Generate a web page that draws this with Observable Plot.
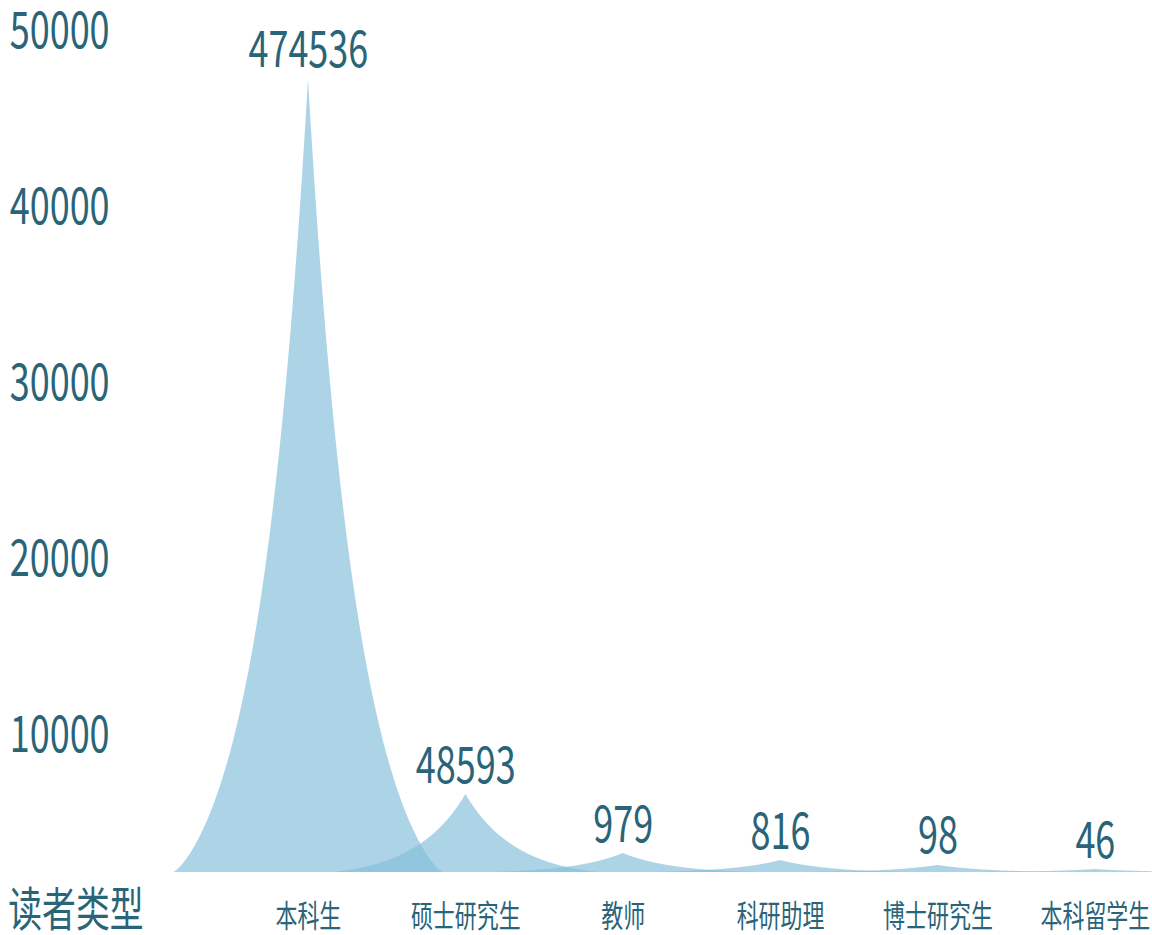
<!DOCTYPE html>
<html><head><meta charset="utf-8">
<script src="https://cdn.jsdelivr.net/npm/d3@7"></script>
<script src="https://cdn.jsdelivr.net/npm/@observablehq/plot@0.6"></script>
<style>
html,body{margin:0;padding:0;background:#fff;overflow:hidden;}
#chart svg{display:block;}
</style></head><body><div id="chart"></div>
<script>
// ---- data ----
const categories = ["本科生", "硕士研究生", "教师", "科研助理", "博士研究生", "本科留学生"];
const valueLabels = ["474536", "48593", "979", "816", "98", "46"];
const heights = [45060, 4430, 1080, 680, 400, 170];   // drawn spike heights
const yTicks = [10000, 20000, 30000, 40000, 50000];
const axisTitle = "读者类型";

// ---- layout ----
const SQUEEZE = 0.72;              // horizontal compression of the whole drawing
const W = 1152, H = 935;
const wideW = W / SQUEEZE;
const HALF = 0.857;                // half width of a spike, in category units
const profile = v => (1 - v) / (1 + 1.93 * Math.pow(v, 0.75));
const N = 200;

const shapes = [];
categories.forEach((cat, i) => {
  for (let k = 0; k <= N; k++) {
    const s = k / N;
    const v = s * s;
    const u = profile(v);
    shapes.push({cat, y: v * heights[i], x1: i - HALF * u, x2: i + HALF * u});
  }
});
const peaks = categories.map((cat, i) => ({i, h: heights[i], label: valueLabels[i]}));

const TEXT = "#2a6478";
const FONT = "'Noto Sans CJK SC', 'Noto Sans', sans-serif";

const svg = Plot.plot({
  width: wideW, height: H,
  marginLeft: 0, marginRight: 0, marginTop: 0, marginBottom: 63,
  x: {type: "linear", domain: [0, 5], range: [308 / SQUEEZE, 1095 / SQUEEZE], label: null},
  y: {domain: [0, 50000], range: [872, -8], label: null},
  style: {fontFamily: FONT, color: TEXT, background: "white"},
  marks: [
    Plot.areaX(shapes, {y: "y", x1: "x1", x2: "x2", z: "cat", fill: "rgb(132,191,218)", fillOpacity: 0.675, curve: "linear", clip: true}),
    Plot.text(peaks, {x: "i", y: "h", text: "label", dy: -28, fontSize: 50, lineAnchor: "middle", fill: TEXT}),
    Plot.axisX({ticks: d3.range(categories.length), tickFormat: i => categories[i], tickSize: 0, tickPadding: 45, lineAnchor: "middle", fontSize: 30.5, label: null, fill: TEXT}),
    Plot.axisY({ticks: yTicks, tickFormat: d => String(d), tickSize: 0, tickPadding: -13, textAnchor: "start", dy: 39, lineAnchor: "middle", fontSize: 50, label: null, fill: TEXT}),
    Plot.text([axisTitle], {text: d => d, frameAnchor: "bottom-left", textAnchor: "start", lineAnchor: "middle", dx: 11, dy: 38, fontSize: 47, fill: TEXT})
  ]
});
svg.setAttribute("width", W);
svg.setAttribute("height", H);
svg.setAttribute("preserveAspectRatio", "none");
svg.style.width = W + "px";
svg.style.height = H + "px";
svg.style.maxWidth = "none";
document.getElementById("chart").appendChild(svg);
</script></body></html>
